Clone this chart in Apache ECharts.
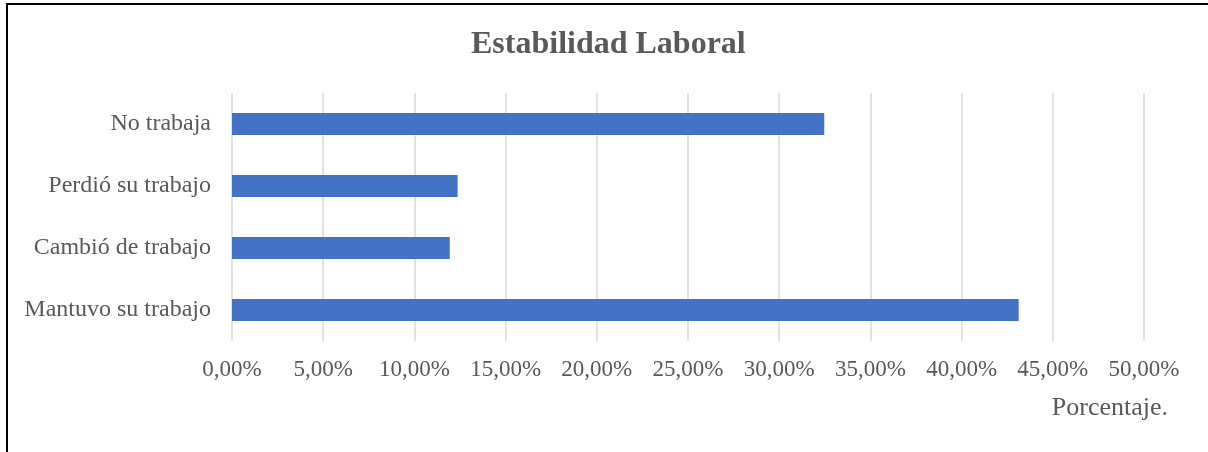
<!DOCTYPE html>
<html>
<head>
<meta charset="utf-8">
<style>
  html, body { margin: 0; padding: 0; background: #fff; }
  #frame {
    position: absolute; left: 6px; top: 3px; width: 1300px; height: 600px;
    border-left: 2px solid #000; border-top: 2px solid #000; box-sizing: border-box;
  }
  #chart { position: absolute; left: 0; top: 0; width: 1208px; height: 452px; }
</style>
<script src="https://cdn.jsdelivr.net/npm/echarts@6/dist/echarts.min.js"></script>
</head>
<body>
<div id="frame"></div>
<div id="chart"></div>
<script>
// Categories from bottom to top of the chart
const categories = ['Mantuvo su trabajo', 'Cambió de trabajo', 'Perdió su trabajo', 'No trabaja'];
// Share of respondents per situation (percent)
const porcentajes = [43.13, 11.94, 12.37, 32.47];
// Percentage axis range and step
const axisMin = 0;
const axisMax = 50;
const axisStep = 5;

const serif = '"Liberation Serif", "DejaVu Serif", serif';
const grey = '#595959';

const chart = echarts.init(document.getElementById('chart'), null, { renderer: 'canvas' });
chart.setOption({
  animation: false,
  backgroundColor: 'transparent',
  title: [
    {
      text: 'Estabilidad Laboral',
      left: 466,
      top: 24,
      textStyle: { fontFamily: serif, fontSize: 32, fontWeight: 'bold', color: grey }
    },
    {
      text: 'Porcentaje.',
      right: 40,
      top: 395,
      padding: 0,
      textStyle: { fontFamily: serif, fontSize: 26, fontWeight: 'normal', color: grey }
    }
  ],
  grid: { left: 232, right: 64, top: 93, bottom: 111, containLabel: false },
  xAxis: {
    type: 'value',
    min: axisMin,
    max: axisMax,
    interval: axisStep,
    axisLine: { show: false },
    axisTick: { show: false },
    splitLine: { show: true, lineStyle: { color: '#d9d9d9', width: 1.5 } },
    axisLabel: {
      margin: 17,
      fontFamily: serif,
      fontSize: 23,
      color: grey,
      formatter: v => v.toFixed(2).replace('.', ',') + '%'
    }
  },
  yAxis: {
    type: 'category',
    data: categories,
    axisLine: { show: false },
    axisTick: { show: false },
    axisLabel: { margin: 21, fontFamily: serif, fontSize: 24, color: grey }
  },
  series: [{
    type: 'bar',
    data: porcentajes,
    barWidth: 22,
    itemStyle: { color: '#4472C4' }
  }]
});
</script>
</body>
</html>
